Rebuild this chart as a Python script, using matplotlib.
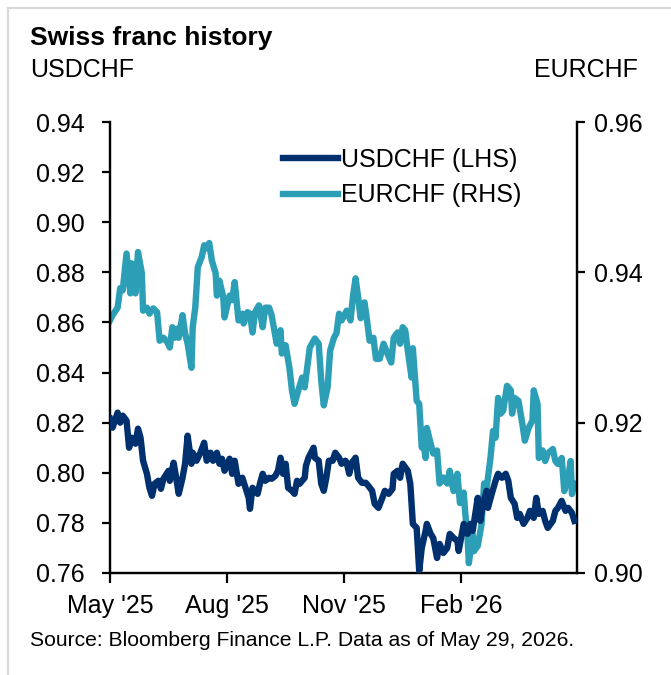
import numpy as np
import pandas as pd
import matplotlib
matplotlib.use("Agg")
import matplotlib.pyplot as plt
import matplotlib.dates as mdates
from matplotlib.lines import Line2D

plt.rcParams['font.family'] = ['Liberation Sans', 'DejaVu Sans']

# ---------------- data ----------------
start_date = "2025-05-01"   # day 0
# EURCHF (right axis): days since start, value
eur_days = [0, 2, 6, 8, 10, 13, 16, 17, 20, 22, 25, 26, 29, 31, 34, 37, 39, 42, 45, 47,
            49, 51, 53, 54, 57, 59, 61, 64, 65, 67, 69, 72, 74, 76, 78, 80, 83, 84, 86, 89,
            90, 94, 96, 98, 101, 104, 105, 108, 110, 112, 114, 117, 120, 122, 125, 127, 131, 134, 135, 138,
            141, 143, 145, 148, 151, 153, 155, 157, 161, 164, 166, 168, 171, 173, 176, 178, 180, 182, 186, 189,
            191, 193, 195, 197, 200, 202, 204, 207, 209, 212, 215, 218, 221, 223, 226, 228, 230, 232, 234, 237,
            238, 241, 243, 245, 246, 248, 249, 252, 254, 257, 259, 262, 265, 267, 270, 273, 275, 278, 279, 281,
            282, 285, 286, 289, 292, 294, 296, 299, 301, 303, 305, 307, 309, 312, 315, 316, 318, 321, 324, 326,
            329, 332, 333, 336, 337, 340, 342, 344, 348, 350, 352, 355, 357, 360, 362, 363, 365]
eur_vals = [0.9336, 0.9343, 0.9353, 0.9379, 0.9376, 0.9425, 0.9372, 0.9412, 0.9372, 0.9427,
            0.9399, 0.9349, 0.9353, 0.9345, 0.9352, 0.9347, 0.9309, 0.9313, 0.9307, 0.9300,
            0.9327, 0.9313, 0.9325, 0.9313, 0.9343, 0.9319, 0.9305, 0.9273, 0.9327, 0.9353,
            0.9407, 0.9420, 0.9436, 0.9432, 0.9439, 0.9416, 0.9399, 0.9369, 0.9389, 0.9367,
            0.9340, 0.9369, 0.9363, 0.9387, 0.9336, 0.9345, 0.9332, 0.9347, 0.9345, 0.9320,
            0.9347, 0.9356, 0.9327, 0.9353, 0.9353, 0.9343, 0.9305, 0.9323, 0.9292, 0.9303,
            0.9273, 0.9243, 0.9225, 0.9243, 0.9260, 0.9247, 0.9273, 0.9300, 0.9312, 0.9305,
            0.9256, 0.9223, 0.9247, 0.9296, 0.9313, 0.9319, 0.9345, 0.9336, 0.9349, 0.9336,
            0.9369, 0.9392, 0.9367, 0.9339, 0.9360, 0.9336, 0.9309, 0.9313, 0.9285, 0.9285,
            0.9305, 0.9292, 0.9280, 0.9313, 0.9320, 0.9305, 0.9327, 0.9323, 0.9296, 0.9260,
            0.9299, 0.9229, 0.9225, 0.9167, 0.9176, 0.9153, 0.9193, 0.9172, 0.9159, 0.9163,
            0.9119, 0.9127, 0.9119, 0.9136, 0.9109, 0.9132, 0.9093, 0.9107, 0.9083, 0.9047,
            0.9013, 0.9052, 0.9029, 0.9036, 0.9065, 0.9119, 0.9113, 0.9153, 0.9189, 0.9180,
            0.9233, 0.9212, 0.9216, 0.9249, 0.9243, 0.9212, 0.9233, 0.9229, 0.9199, 0.9176,
            0.9193, 0.9203, 0.9243, 0.9225, 0.9153, 0.9163, 0.9149, 0.9159, 0.9165, 0.9149,
            0.9145, 0.9153, 0.9109, 0.9127, 0.9149, 0.9105, 0.9119]

# USDCHF (left axis): days since start, value
usd_days = [0, 2, 6, 8, 10, 13, 15, 17, 20, 22, 24, 26, 29, 31, 33, 35, 38, 40, 42, 46,
            47, 50, 52, 54, 57, 59, 61, 64, 65, 68, 71, 74, 76, 79, 81, 84, 86, 88, 90, 94,
            96, 98, 101, 104, 106, 109, 110, 112, 114, 116, 118, 120, 122, 125, 127, 130, 132, 134, 136, 138,
            140, 143, 145, 147, 149, 153, 154, 156, 160, 161, 164, 166, 168, 170, 172, 175, 177, 180, 182, 185,
            186, 188, 190, 193, 195, 198, 201, 203, 206, 208, 211, 214, 216, 219, 222, 223, 226, 228, 230, 234,
            236, 238, 241, 243, 245, 248, 249, 252, 254, 257, 259, 262, 265, 267, 270, 273, 274, 278, 281, 283,
            285, 289, 291, 293, 296, 297, 300, 303, 305, 308, 311, 313, 315, 318, 320, 322, 325, 328, 330, 333,
            335, 337, 340, 342, 344, 348, 350, 352, 355, 358, 360, 363, 365]
usd_vals = [0.8216, 0.8180, 0.8240, 0.8200, 0.8228, 0.8208, 0.8100, 0.8140, 0.8116, 0.8176,
            0.8140, 0.8048, 0.7996, 0.7940, 0.7908, 0.7956, 0.7968, 0.7936, 0.7976, 0.8008,
            0.7968, 0.8040, 0.7980, 0.7916, 0.7980, 0.8036, 0.8148, 0.8036, 0.8080, 0.8048,
            0.8080, 0.8120, 0.8048, 0.8080, 0.8048, 0.8080, 0.8036, 0.8056, 0.8008, 0.8056,
            0.7996, 0.8048, 0.7956, 0.7980, 0.7948, 0.7900, 0.7856, 0.7940, 0.7928, 0.7916,
            0.7960, 0.7996, 0.7968, 0.7980, 0.7976, 0.7988, 0.8008, 0.8060, 0.7996, 0.8036,
            0.7940, 0.7928, 0.7916, 0.7968, 0.7956, 0.7980, 0.8028, 0.8060, 0.8100, 0.8060,
            0.8048, 0.7956, 0.7928, 0.7980, 0.8048, 0.8048, 0.8080, 0.8060, 0.8036, 0.8048,
            0.8040, 0.7996, 0.8040, 0.8060, 0.7980, 0.7960, 0.7960, 0.7948, 0.7928, 0.7876,
            0.7860, 0.7900, 0.7928, 0.7916, 0.7936, 0.7996, 0.8008, 0.7980, 0.8036, 0.8008,
            0.7956, 0.7796, 0.7780, 0.7608, 0.7700, 0.7768, 0.7796, 0.7756, 0.7740, 0.7660,
            0.7716, 0.7680, 0.7700, 0.7756, 0.7740, 0.7728, 0.7688, 0.7796, 0.7756, 0.7796,
            0.7768, 0.7900, 0.7808, 0.7876, 0.7928, 0.7860, 0.7916, 0.7968, 0.7996, 0.7980,
            0.7996, 0.7968, 0.7900, 0.7876, 0.7820, 0.7836, 0.7796, 0.7820, 0.7848, 0.7820,
            0.7900, 0.7836, 0.7848, 0.7808, 0.7780, 0.7808, 0.7848, 0.7860, 0.7888, 0.7848,
            0.7860, 0.7840, 0.7808]

x_ticks = ["2025-05-01", "2025-08-01", "2025-11-01", "2026-02-01"]
x_tick_labels = ["May '25", "Aug '25", "Nov '25", "Feb '26"]
x_range = ["2025-05-01", "2026-05-03"]
left_ticks = [0.76, 0.78, 0.80, 0.82, 0.84, 0.86, 0.88, 0.90, 0.92, 0.94]
right_ticks = [0.90, 0.92, 0.94, 0.96]

title = "Swiss franc history"
left_label = "USDCHF"
right_label = "EURCHF"
source = "Source: Bloomberg Finance L.P. Data as of May 29, 2026."

# ---------------- plot ----------------
t0 = pd.Timestamp(start_date)
eur_dates = t0 + pd.to_timedelta(eur_days, unit="D")
usd_dates = t0 + pd.to_timedelta(usd_days, unit="D")

W, H = 671, 675
fig = plt.figure(figsize=(W / 100, H / 100), dpi=100)
fig.patch.set_facecolor("white")

ax = fig.add_axes([110 / W, 1 - 573 / H, (577 - 110) / W, (573 - 122) / H])
ax2 = ax.twinx()

usd_color = "#00306E"
eur_color = "#2C9FB6"
lw = 4.6

l2, = ax2.plot(eur_dates, eur_vals, color=eur_color, lw=lw, solid_joinstyle="round",
               label="EURCHF (RHS)", zorder=2)
l1, = ax.plot(usd_dates, usd_vals, color=usd_color, lw=lw, solid_joinstyle="round",
              label="USDCHF (LHS)", zorder=3)
ax.set_zorder(ax2.get_zorder() + 1)
ax.patch.set_visible(False)

ax.set_ylim(0.76, 0.94)
ax2.set_ylim(0.90, 0.96)
ax.set_yticks(left_ticks)
ax.set_yticklabels([f"{v:.2f}" for v in left_ticks])
ax2.set_yticks(right_ticks)
ax2.set_yticklabels([f"{v:.2f}" for v in right_ticks])

ax.set_xlim(pd.Timestamp(x_range[0]), pd.Timestamp(x_range[1]))
ax.set_xticks([pd.Timestamp(d) for d in x_ticks])
ax.set_xticklabels(x_tick_labels)

fs = 18
for a in (ax, ax2):
    a.spines["top"].set_visible(False)
    for s in a.spines.values():
        s.set_linewidth(1.6)
        s.set_color("black")
ax.tick_params(axis="y", direction="out", length=6, width=1.6, labelsize=fs, pad=12)
ax2.tick_params(axis="y", direction="out", length=6, width=1.6, labelsize=fs, pad=6)
ax.tick_params(axis="x", direction="out", length=7, width=1.6, labelsize=fs, pad=8)

leg = ax.legend(handles=[l1, l2], loc="upper left",
                bbox_to_anchor=((283 - 110) / (577 - 110), 1 - (148 - 122) / (573 - 122)),
                frameon=False, fontsize=fs, handlelength=2.2, handletextpad=0.12,
                labelspacing=0.45, borderaxespad=0, borderpad=0)

fig.text(30 / W, 1 - 38 / H, title, fontsize=19, fontweight="bold", va="center", ha="left")
fig.text(30 / W, 1 - 70 / H, left_label, fontsize=fs, va="center", ha="left")
fig.text(638 / W, 1 - 70 / H, right_label, fontsize=fs, va="center", ha="right")
fig.text(30 / W, 1 - 640 / H, source, fontsize=15.2, va="center", ha="left")

# light gray frame around the chart
fig.add_artist(Line2D([8 / W, 8 / W], [0, 1 - 8 / H], transform=fig.transFigure,
                      color="#D9D9D9", lw=1.6))
fig.add_artist(Line2D([8 / W, 1], [1 - 8 / H, 1 - 8 / H], transform=fig.transFigure,
                      color="#D9D9D9", lw=1.6))

fig.savefig("out.png", dpi=100)
